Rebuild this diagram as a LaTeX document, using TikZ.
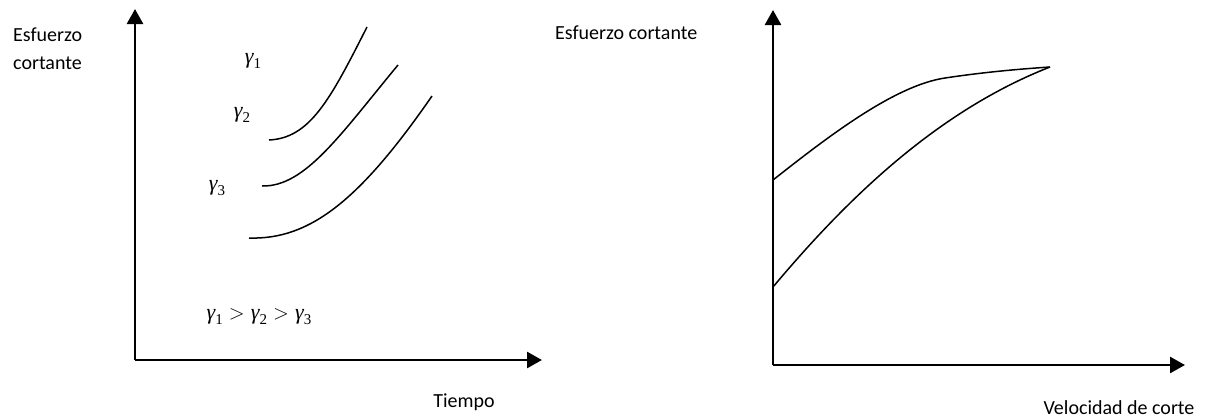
\documentclass[tikz,border=0pt]{standalone}
\usepackage{fontspec}
\setmainfont{Carlito}
\newfontfamily\gfont{Liberation Serif}
\usetikzlibrary{arrows.meta}
\newcommand{\gsub}[1]{{\gfont\itshape γ}\raisebox{-0.22em}{\gfont\fontsize{15}{15}\selectfont #1}}
\newcommand{\gtr}{\hspace{0.28em}$>$\hspace{0.28em}}
\begin{document}
\begin{tikzpicture}[x=1pt,y=-1pt,
  axis/.style={line width=2.6pt,-{Triangle[length=15pt,width=16pt]}},
  curve/.style={line width=1.5pt},
  lbl/.style={inner sep=0pt,font=\fontsize{20}{24}\selectfont},
  glbl/.style={inner sep=0pt,font=\gfont\fontsize{22}{26}\selectfont}]
\useasboundingbox (0,0) rectangle (1206,418);
% left plot
\coordinate (O1) at (135,360);
\coordinate (Y1) at (135,9);
\coordinate (X1) at (542,360);
\draw[axis] (O1) -- (Y1);
\draw[axis] (O1) -- (X1);
\coordinate (a1) at (269,140); \coordinate (b1) at (367,27);
\coordinate (a2) at (262,186); \coordinate (b2) at (398,65);
\coordinate (a3) at (249,238); \coordinate (b3) at (432,96);
\draw[curve] (a1) .. controls (310,138) and (330,100) .. (b1);
\draw[curve] (a2) .. controls (305,187) and (340,135) .. (b2);
\draw[curve] (a3) .. controls (310,240) and (360,200) .. (b3);
\node[lbl,anchor=west] (e1) at (13,35) {Esfuerzo};
\node[lbl,anchor=west] (c1) at (13,63) {cortante};
\node[lbl] (t) at (464,402) {Tiempo};
\node[glbl] (g1) at (253,61) {\gsub{1}};
\node[glbl] (g2) at (242,115) {\gsub{2}};
\node[glbl] (g3) at (217,188) {\gsub{3}};
\node[glbl,font=\gfont\fontsize{22}{26}\selectfont\fontsize{22}{26}] (ineq) at (259,317) {\gsub{1}\gtr\gsub{2}\gtr\gsub{3}};
% right plot
\coordinate (O2) at (773,365);
\coordinate (Y2) at (773,10);
\coordinate (X2) at (1185,365);
\draw[axis] (O2) -- (Y2);
\draw[axis] (O2) -- (X2);
\coordinate (u) at (773,180);
\coordinate (l) at (773,287);
\coordinate (m) at (945,78);
\coordinate (p) at (1050,67);
\draw[curve] (u) .. controls (830,135) and (895,85.5) .. (m) .. controls (985,72) and (1020,69) .. (p);
\draw[curve] (l) .. controls (850,195) and (940,110) .. (p);
\node[lbl,anchor=west] (e2) at (555,33) {Esfuerzo cortante};
\node[lbl] (v) at (1119,408) {Velocidad de corte};
\end{tikzpicture}
\end{document}
